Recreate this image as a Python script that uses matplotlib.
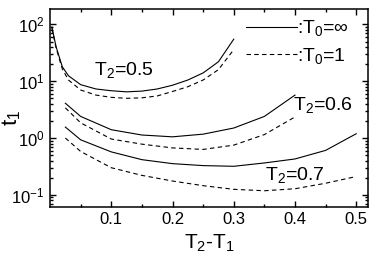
import matplotlib
matplotlib.use("Agg")
import matplotlib.pyplot as plt
from matplotlib.ticker import LogLocator, FixedLocator, NullFormatter

plt.rcParams['font.family'] = ['Liberation Sans', 'DejaVu Sans']
plt.rcParams['mathtext.fontset'] = 'custom'
plt.rcParams['mathtext.rm'] = 'Liberation Sans'
plt.rcParams['mathtext.it'] = 'Liberation Sans'
plt.rcParams['mathtext.default'] = 'regular'

# T2 = 0.5
x05 = [0.003, 0.01, 0.02, 0.03, 0.05, 0.075, 0.1, 0.125, 0.15, 0.175, 0.2, 0.225, 0.25, 0.275, 0.3]
y05_inf = [90, 40, 18, 12.5, 8.7, 7.3, 6.8, 6.5, 6.7, 7.3, 8.5, 10.5, 14, 22, 55]
y05_one = [85, 38, 16.5, 10.5, 7.0, 5.7, 5.2, 5.0, 5.1, 5.5, 6.6, 8.0, 10.5, 16, 36]

# T2 = 0.6
x06 = [0.025, 0.05, 0.1, 0.15, 0.2, 0.25, 0.3, 0.35, 0.4]
y06_inf = [4.1, 2.4, 1.4, 1.13, 1.05, 1.17, 1.5, 2.4, 5.7]
y06_one = [3.4, 1.85, 0.96, 0.78, 0.67, 0.63, 0.75, 1.15, 2.35]

# T2 = 0.7
x07 = [0.025, 0.05, 0.1, 0.15, 0.2, 0.25, 0.3, 0.35, 0.4, 0.45, 0.5]
y07_inf = [1.56, 0.93, 0.57, 0.416, 0.354, 0.327, 0.318, 0.364, 0.428, 0.606, 1.19]
y07_one = [1.0, 0.58, 0.30, 0.22, 0.175, 0.145, 0.125, 0.118, 0.128, 0.16, 0.21]

xticks = [0.1, 0.2, 0.3, 0.4, 0.5]
xtick_labels = ['0.1', '0.2', '0.3', '0.4', '0.5']

fig = plt.figure(figsize=(3.82, 2.68), dpi=100)
ax = fig.add_axes([0.131, 0.229, 0.832, 0.739])

lw = 0.8
ax.plot(x05, y05_inf, color='black', lw=lw, ls='-', label=':T$_0$=∞')
ax.plot(x05, y05_one, color='black', lw=lw, ls=(0, (4, 3)), label=':T$_0$=1')
ax.plot(x06, y06_inf, color='black', lw=lw, ls='-')
ax.plot(x06, y06_one, color='black', lw=lw, ls=(0, (4, 3)))
ax.plot(x07, y07_inf, color='black', lw=lw, ls='-')
ax.plot(x07, y07_one, color='black', lw=lw, ls=(0, (4, 3)))

ax.set_yscale('log')
ax.set_xlim(0, 0.519)
ax.set_ylim(0.062, 190)

ax.xaxis.set_major_locator(FixedLocator(xticks))
ax.set_xticklabels(xtick_labels)
ax.xaxis.set_minor_locator(FixedLocator([0.05, 0.15, 0.25, 0.35, 0.45]))
ax.yaxis.set_major_locator(LogLocator(base=10, numticks=10))
ax.yaxis.set_minor_locator(LogLocator(base=10, subs=range(2, 10), numticks=20))
ax.yaxis.set_minor_formatter(NullFormatter())

ax.tick_params(which='both', direction='in', top=True, right=True, labelsize=12, width=1.0)
ax.tick_params(which='major', length=4.5, pad=4)
ax.tick_params(which='minor', length=2.5)
for s in ax.spines.values():
    s.set_linewidth(1.1)

ax.set_xlabel('T$_2$-T$_1$', fontsize=15, labelpad=4)
ax.set_ylabel('t$_1$', fontsize=16)
ax.yaxis.set_label_coords(-0.085, 0.45)

ax.text(0.071, 15.8, 'T$_2$=0.5', fontsize=14, ha='left', va='center')
ax.text(0.397, 3.8, 'T$_2$=0.6', fontsize=14, ha='left', va='center')
ax.text(0.351, 0.227, 'T$_2$=0.7', fontsize=14, ha='left', va='center')

ax.legend(loc='upper right', bbox_to_anchor=(0.94, 0.95), frameon=False, fontsize=14,
          handlelength=2.6, handletextpad=0.0, borderaxespad=0.0, borderpad=0.0,
          labelspacing=0.4)

fig.savefig('out.png', dpi=100)
